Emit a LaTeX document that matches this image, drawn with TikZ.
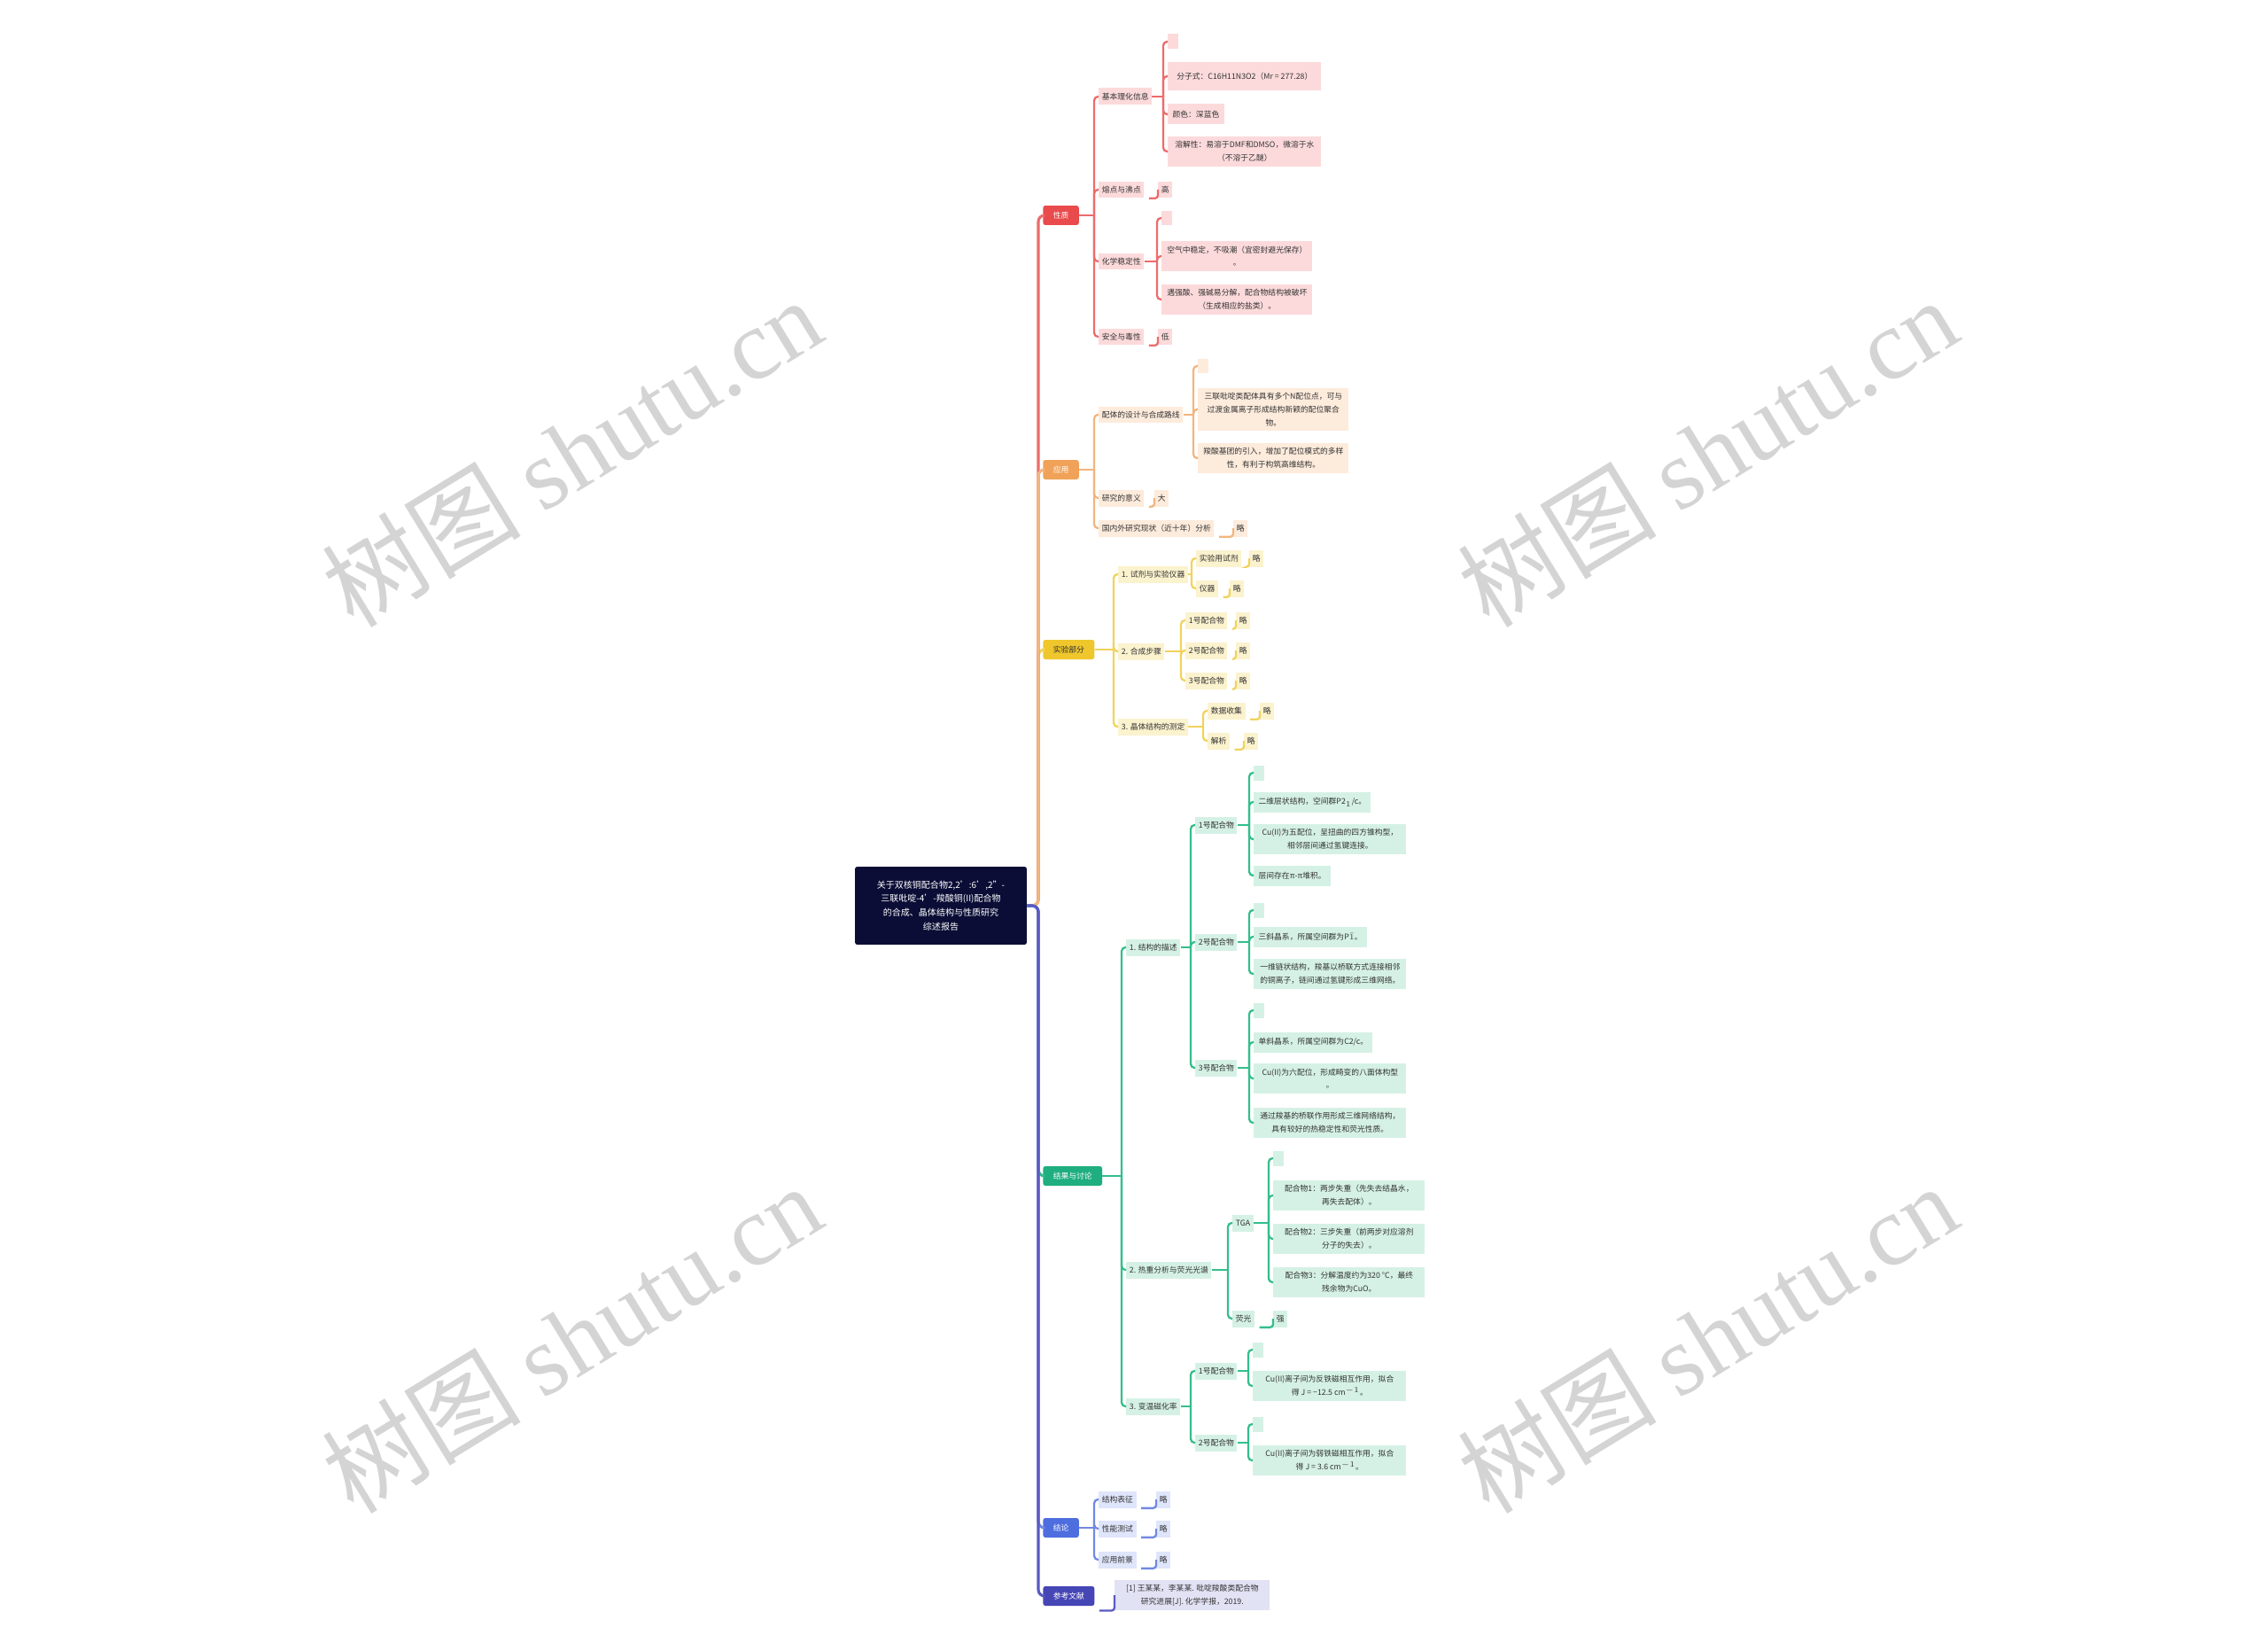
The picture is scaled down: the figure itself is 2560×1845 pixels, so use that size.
\documentclass[tikz,border=0pt]{standalone}
\usepackage{fontspec}
\setmainfont{Noto Sans CJK SC}
\newfontfamily\wmlatin{Liberation Serif}

\definecolor{rootC}{HTML}{0B0D36}
\definecolor{txtC}{HTML}{333333}
\definecolor{wmC}{HTML}{D4D4D4}
\definecolor{redN}{HTML}{E94A4C}
\definecolor{redW}{HTML}{EE6B6B}
\definecolor{redL}{HTML}{FCDADB}
\definecolor{orgN}{HTML}{F0A259}
\definecolor{orgW}{HTML}{F3B57E}
\definecolor{orgL}{HTML}{FDEBDC}
\definecolor{yelN}{HTML}{EFC62C}
\definecolor{yelW}{HTML}{F1D35C}
\definecolor{yelL}{HTML}{FBF2CE}
\definecolor{grnN}{HTML}{1FAE7F}
\definecolor{grnW}{HTML}{34BE8C}
\definecolor{grnL}{HTML}{D5F1E5}
\definecolor{bluN}{HTML}{4E6DDF}
\definecolor{bluW}{HTML}{7189E4}
\definecolor{bluL}{HTML}{DFE5FA}
\definecolor{indN}{HTML}{4646B6}
\definecolor{indW}{HTML}{5A5AC2}
\definecolor{indL}{HTML}{E2E2F5}

\tikzset{
  every node/.style={font=\fontsize{5}{8.5}\selectfont, text=txtC, inner sep=0pt},
  rootbox/.style={fill=rootC, text=white, align=center, minimum width=3.88cm, minimum height=1.76cm,
    rounded corners=1.5pt, font=\fontsize{5.7}{9}\selectfont},
  hd/.style={fill=#1, text=white, anchor=west, minimum height=0.44cm, inner xsep=6.5pt, rounded corners=1.5pt},
  lbl/.style={fill=#1, anchor=west, minimum height=0.38cm, inner xsep=2pt},
  txt/.style={fill=#1, anchor=west, align=center, inner xsep=3pt, inner ysep=3pt, minimum height=0.46cm},
  emp/.style={fill=#1, anchor=west, minimum width=0.24cm, minimum height=0.34cm},
  ln/.style={draw=#1, line width=1.3pt, rounded corners=2.5pt},
  trunk/.style={draw=#1, line width=1.8pt, rounded corners=4pt},
  wm/.style={text=wmC, rotate=31.5, font=\fontsize{64}{64}\selectfont},
}
% parent -> bracket at x=#3 -> children
\newcommand\fork[4]{%
  \coordinate (#2j) at (#2.east -| #3,0);
  \draw[ln=#1, rounded corners=0pt] (#2.east) -- (#2j);
  \foreach \k in {#4} \draw[ln=#1] (#2j) |- (\k.west);
}
% short hook under a leaf
\newcommand\leaf[3]{%
  \coordinate (#3s) at (#3.south west -| #2.east);
  \draw[ln=#1, rounded corners=2pt] ([xshift=3pt]#3s) -- (#3.south west) -- (#3.west);
}

\begin{document}
\begin{tikzpicture}[x=0.02cm, y=-0.02cm]
	\useasboundingbox (0,0) rectangle (2560,1845);

	% WATERMARKS
	\foreach \wx/\wy [count=\i] in {645/510, 1927/510, 645/1510, 1927/1510}
		\node[wm] (wm\i) at (\wx,\wy) {树图 {\wmlatin shutu.cn}};

	% ROOT AND MAIN BRANCHES
	\node[rootbox] (root) at (1062,1022) {关于双核铜配合物2,2':6',2''-\\三联吡啶-4'-羧酸铜(II)配合物\\的合成、晶体结构与性质研究\\综述报告};
	\node[hd=redN] (r1) at (1177,243) {性质};
	\node[hd=orgN] (o1) at (1177,530) {应用};
	\node[hd=yelN, text=txtC] (y1) at (1177,733) {实验部分};
	\node[hd=grnN] (g1) at (1177,1327) {结果与讨论};
	\node[hd=bluN] (b1) at (1177,1724) {结论};
	\node[hd=indN] (i1) at (1177,1801) {参考文献};

	% RED
	\node[lbl=redL] (r2a) at (1240,109) {基本理化信息};
	\node[emp=redL] (r3a1) at (1318,47) {};
	\node[txt=redL, minimum width=3.46cm, minimum height=0.64cm] (r3a2) at (1318,86) {分子式：C16H11N3O2（Mr = 277.28）};
	\node[txt=redL] (r3a3) at (1318,129) {颜色：深蓝色};
	\node[txt=redL, minimum width=3.46cm] (r3a4) at (1318,171) {溶解性：易溶于DMF和DMSO，微溶于水\\（不溶于乙醚）};
	\node[lbl=redL] (r2b) at (1240,214) {熔点与沸点};
	\node[lbl=redL] (r2bx) at (1307,214) {高};
	\node[lbl=redL] (r2c) at (1240,295) {化学稳定性};
	\node[emp=redL] (r3c1) at (1311,246) {};
	\node[txt=redL, minimum width=3.4cm] (r3c2) at (1311,289) {空气中稳定，不吸潮（宜密封避光保存）\\。};
	\node[txt=redL, minimum width=3.4cm] (r3c3) at (1311,338) {遇强酸、强碱易分解，配合物结构被破坏\\（生成相应的盐类）。};
	\node[lbl=redL] (r2d) at (1240,380) {安全与毒性};
	\node[lbl=redL] (r2dx) at (1307,380) {低};

	% ORANGE
	\node[lbl=orgL] (o2a) at (1240,468) {配体的设计与合成路线};
	\node[emp=orgL] (o3a1) at (1352,413) {};
	\node[txt=orgL, minimum width=3.4cm] (o3a2) at (1352,462) {三联吡啶类配体具有多个N配位点，可与\\过渡金属离子形成结构新颖的配位聚合\\物。};
	\node[txt=orgL, minimum width=3.4cm] (o3a3) at (1352,517) {羧酸基团的引入，增加了配位模式的多样\\性，有利于构筑高维结构。};
	\node[lbl=orgL] (o2b) at (1240,562) {研究的意义};
	\node[lbl=orgL] (o2bx) at (1303,562) {大};
	\node[lbl=orgL] (o2c) at (1240,596) {国内外研究现状（近十年）分析};
	\node[lbl=orgL] (o2cx) at (1392,596) {略};

	% YELLOW
	\node[lbl=yelL] (y2a) at (1262,648) {1. 试剂与实验仪器};
	\node[lbl=yelL] (y3a) at (1350,630) {实验用试剂};
	\node[lbl=yelL] (y3ax) at (1410,630) {略};
	\node[lbl=yelL] (y3b) at (1350,664) {仪器};
	\node[lbl=yelL] (y3bx) at (1388,664) {略};
	\node[lbl=yelL] (y2b) at (1262,735) {2. 合成步骤};
	\node[lbl=yelL] (y3c) at (1338,700) {1号配合物};
	\node[lbl=yelL] (y3cx) at (1395,700) {略};
	\node[lbl=yelL] (y3d) at (1338,734) {2号配合物};
	\node[lbl=yelL] (y3dx) at (1395,734) {略};
	\node[lbl=yelL] (y3e) at (1338,768) {3号配合物};
	\node[lbl=yelL] (y3ex) at (1395,768) {略};
	\node[lbl=yelL] (y2c) at (1262,820) {3. 晶体结构的测定};
	\node[lbl=yelL] (y3f) at (1363,802) {数据收集};
	\node[lbl=yelL] (y3fx) at (1422,802) {略};
	\node[lbl=yelL] (y3g) at (1363,836) {解析};
	\node[lbl=yelL] (y3gx) at (1404,836) {略};

	% GREEN
	\node[lbl=grnL] (g2a) at (1271,1069) {1. 结构的描述};
	\node[lbl=grnL] (g3a) at (1349,931) {1号配合物};
	\node[emp=grnL] (g4a1) at (1415,872) {};
	\node[txt=grnL] (g4a2) at (1415,905) {二维层状结构，空间群P2$_1$/c。};
	\node[txt=grnL, minimum width=3.44cm] (g4a3) at (1415,947) {Cu(II)为五配位，呈扭曲的四方锥构型，\\相邻层间通过氢键连接。};
	\node[txt=grnL] (g4a4) at (1415,988) {层间存在π-π堆积。};
	\node[lbl=grnL] (g3b) at (1349,1063) {2号配合物};
	\node[emp=grnL] (g4b1) at (1415,1027) {};
	\node[txt=grnL] (g4b2) at (1415,1057) {三斜晶系，所属空间群为P$\bar{1}$。};
	\node[txt=grnL, minimum width=3.44cm] (g4b3) at (1415,1099) {一维链状结构，羧基以桥联方式连接相邻\\的铜离子，链间通过氢键形成三维网络。};
	\node[lbl=grnL] (g3c) at (1349,1205) {3号配合物};
	\node[emp=grnL] (g4c1) at (1415,1140) {};
	\node[txt=grnL] (g4c2) at (1415,1176) {单斜晶系，所属空间群为C2/c。};
	\node[txt=grnL, minimum width=3.44cm] (g4c3) at (1415,1217) {Cu(II)为六配位，形成畸变的八面体构型\\。};
	\node[txt=grnL, minimum width=3.44cm] (g4c4) at (1415,1267) {通过羧基的桥联作用形成三维网络结构，\\具有较好的热稳定性和荧光性质。};
	\node[lbl=grnL] (g2b) at (1271,1433) {2. 热重分析与荧光光谱};
	\node[lbl=grnL] (g3d) at (1391,1380) {TGA};
	\node[emp=grnL] (g4d1) at (1437,1307) {};
	\node[txt=grnL, minimum width=3.42cm] (g4d2) at (1437,1349) {配合物1：两步失重（先失去结晶水，\\再失去配体）。};
	\node[txt=grnL, minimum width=3.42cm] (g4d3) at (1437,1398) {配合物2：三步失重（前两步对应溶剂\\分子的失去）。};
	\node[txt=grnL, minimum width=3.42cm] (g4d4) at (1437,1447) {配合物3：分解温度约为320 °C，最终\\残余物为CuO。};
	\node[lbl=grnL] (g3e) at (1391,1488) {荧光};
	\node[lbl=grnL] (g3ex) at (1437,1488) {强};
	\node[lbl=grnL] (g2c) at (1271,1587) {3. 变温磁化率};
	\node[lbl=grnL] (g3f) at (1349,1547) {1号配合物};
	\node[emp=grnL] (g4f1) at (1414,1523) {};
	\node[txt=grnL, minimum width=3.46cm] (g4f2) at (1414,1564) {Cu(II)离子间为反铁磁相互作用，拟合\\得 J = −12.5 cm$^{-1}$。};
	\node[lbl=grnL] (g3g) at (1349,1628) {2号配合物};
	\node[emp=grnL] (g4g1) at (1414,1607) {};
	\node[txt=grnL, minimum width=3.46cm] (g4g2) at (1414,1648) {Cu(II)离子间为弱铁磁相互作用，拟合\\得 J = 3.6 cm$^{-1}$。};

	% BLUE
	\node[lbl=bluL] (b2a) at (1240,1692) {结构表征};
	\node[lbl=bluL] (b2ax) at (1305,1692) {略};
	\node[lbl=bluL] (b2b) at (1240,1725) {性能测试};
	\node[lbl=bluL] (b2bx) at (1305,1725) {略};
	\node[lbl=bluL] (b2c) at (1240,1760) {应用前景};
	\node[lbl=bluL] (b2cx) at (1305,1760) {略};

	% INDIGO
	\node[txt=indL, minimum width=3.5cm] (i2) at (1258,1800) {[1] 王某某，李某某. 吡啶羧酸类配合物\\研究进展[J]. 化学学报，2019.};

	% LINES
	\coordinate (rootj) at (root.east -| 1172,0);
	\draw[trunk=yelW] (root.east) -- (rootj) |- (y1.west);
	\draw[trunk=redW] (root.east) -- (rootj) |- (r1.west);
	\draw[trunk=orgW] (root.east) -- (rootj) |- (o1.west);
	\draw[trunk=grnW] (root.east) -- (rootj) |- (g1.west);
	\draw[trunk=bluW] (root.east) -- (rootj) |- (b1.west);
	\draw[trunk=indW] (root.east) -- (rootj) |- (i1.west);

	\fork{redW}{r1}{1235}{r2a,r2b,r2c,r2d}
	\fork{redW}{r2a}{1313}{r3a1,r3a2,r3a3,r3a4}
	\fork{redW}{r2c}{1306}{r3c1,r3c2,r3c3}
	\leaf{redW}{r2b}{r2bx}
	\leaf{redW}{r2d}{r2dx}

	\fork{orgW}{o1}{1235}{o2a,o2b,o2c}
	\fork{orgW}{o2a}{1347}{o3a1,o3a2,o3a3}
	\leaf{orgW}{o2b}{o2bx}
	\leaf{orgW}{o2c}{o2cx}

	\fork{yelW}{y1}{1257}{y2a,y2b,y2c}
	\fork{yelW}{y2a}{1345}{y3a,y3b}
	\fork{yelW}{y2b}{1333}{y3c,y3d,y3e}
	\fork{yelW}{y2c}{1358}{y3f,y3g}
	\foreach \p in {y3a,y3b,y3c,y3d,y3e,y3f,y3g} {\leaf{yelW}{\p}{\p x}}

	\fork{grnW}{g1}{1266}{g2a,g2b,g2c}
	\fork{grnW}{g2a}{1344}{g3a,g3b,g3c}
	\fork{grnW}{g3a}{1410}{g4a1,g4a2,g4a3,g4a4}
	\fork{grnW}{g3b}{1410}{g4b1,g4b2,g4b3}
	\fork{grnW}{g3c}{1410}{g4c1,g4c2,g4c3,g4c4}
	\fork{grnW}{g2b}{1386}{g3d,g3e}
	\fork{grnW}{g3d}{1432}{g4d1,g4d2,g4d3,g4d4}
	\leaf{grnW}{g3e}{g3ex}
	\fork{grnW}{g2c}{1344}{g3f,g3g}
	\fork{grnW}{g3f}{1409}{g4f1,g4f2}
	\fork{grnW}{g3g}{1409}{g4g1,g4g2}

	\fork{bluW}{b1}{1235}{b2a,b2b,b2c}
	\foreach \p in {b2a,b2b,b2c} {\leaf{bluW}{\p}{\p x}}

	\leaf{indW}{i1}{i2}
\end{tikzpicture}
\end{document}
